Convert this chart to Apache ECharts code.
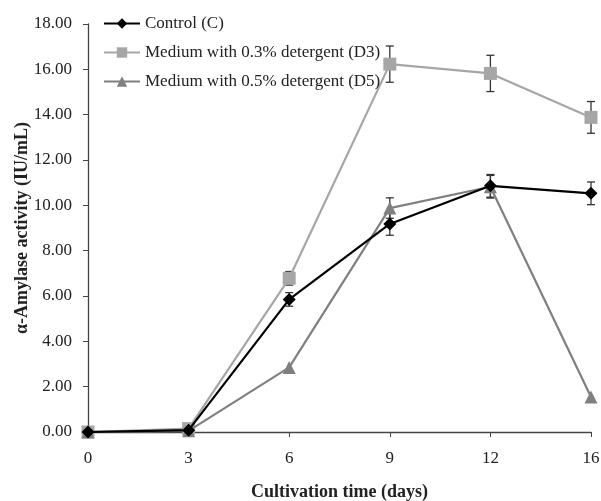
<!DOCTYPE html>
<html>
<head>
<meta charset="utf-8">
<script src="https://cdn.jsdelivr.net/npm/echarts@6/dist/echarts.min.js"></script>
<style>
  html, body { margin: 0; padding: 0; background: #fff; }
  #chart { width: 601px; height: 501px; }
</style>
</head>
<body>
<div id="chart"></div>
<script>
var days = ['0', '3', '6', '9', '12', '16'];
var yTicks = [0, 2, 4, 6, 8, 10, 12, 14, 16, 18];

var control = [0.0, 0.08, 5.85, 9.18, 10.86, 10.53];
var controlErr = [0, 0, 0.3, 0.5, 0.5, 0.5];

var d3 = [0.0, 0.15, 6.78, 16.23, 15.82, 13.88];
var d3Err = [0, 0, 0.3, 0.8, 0.8, 0.7];

var d5 = [0.0, 0.05, 2.85, 9.88, 10.82, 1.54];
var d5Err = [0, 0, 0, 0.45, 0.5, 0];

var names = ['Control (C)', 'Medium with 0.3% detergent (D3)', 'Medium with 0.5% detergent (D5)'];

var font = 'Liberation Serif';

// error bars drawn with the axis scales
function errSeries(vals, errs) {
    var data = [];
    for (var i = 0; i < vals.length; i++) {
        if (errs[i] > 0) data.push([i, vals[i] - errs[i], vals[i] + errs[i]]);
    }
    return {
        type: 'custom',
        silent: true,
        z: 1,
        data: data,
        renderItem: function (params, api) {
            var lo = api.coord([api.value(0), api.value(1)]);
            var hi = api.coord([api.value(0), api.value(2)]);
            var w = 4;
            var st = { stroke: '#333', lineWidth: 1.3 };
            return {
                type: 'group',
                children: [
                    { type: 'line', shape: { x1: lo[0], y1: lo[1], x2: hi[0], y2: hi[1] }, style: st },
                    { type: 'line', shape: { x1: lo[0] - w, y1: lo[1], x2: lo[0] + w, y2: lo[1] }, style: st },
                    { type: 'line', shape: { x1: hi[0] - w, y1: hi[1], x2: hi[0] + w, y2: hi[1] }, style: st }
                ]
            };
        }
    };
}

var myChart = echarts.init(document.getElementById('chart'));

var option = {
    animation: false,
    backgroundColor: '#fff',
    textStyle: { fontFamily: font },
    grid: { left: 88, right: 10, top: 24, bottom: 69, outerBoundsMode: 'none', containLabel: false },
    legend: {
        orient: 'vertical',
        left: 98,
        top: 10,
        itemGap: 12,
        itemWidth: 36,
        itemHeight: 13,
        data: names,
        textStyle: { fontFamily: font, fontSize: 17, color: '#222' }
    },
    xAxis: {
        type: 'category',
        data: days,
        boundaryGap: false,
        name: 'Cultivation time (days)',
        nameLocation: 'middle',
        nameGap: 51,
        nameTextStyle: { fontFamily: font, fontSize: 18, fontWeight: 'bold', color: '#222' },
        axisLine: { lineStyle: { color: '#444', width: 1.3 } },
        axisTick: { alignWithLabel: true, length: 5, lineStyle: { color: '#444' } },
        axisLabel: { fontFamily: font, fontSize: 17, color: '#222', margin: 18 },
        splitLine: { show: false }
    },
    yAxis: {
        type: 'value',
        min: yTicks[0],
        max: yTicks[yTicks.length - 1],
        interval: 2,
        name: 'α-Amylase activity (IU/mL)',
        nameLocation: 'middle',
        nameGap: 57,
        nameMoveOverlap: false,
        nameTextStyle: { fontFamily: font, fontSize: 18, fontWeight: 'bold', color: '#222' },
        axisLine: { show: true, lineStyle: { color: '#444', width: 1.3 } },
        axisTick: { show: true, length: 5, lineStyle: { color: '#444' } },
        axisLabel: {
            fontFamily: font, fontSize: 17, color: '#222', margin: 16,
            formatter: function (v) { return v.toFixed(2); }
        },
        splitLine: { show: false }
    },
    series: [
        errSeries(control, controlErr),
        errSeries(d3, d3Err),
        errSeries(d5, d5Err),
        {
            name: names[0], type: 'line', data: control, z: 4,
            symbol: 'diamond', symbolSize: 13,
            itemStyle: { color: '#000' },
            lineStyle: { color: '#000', width: 2.2 }
        },
        {
            name: names[1], type: 'line', data: d3, z: 2,
            symbol: 'rect', symbolSize: 13,
            itemStyle: { color: '#a6a6a6' },
            lineStyle: { color: '#a6a6a6', width: 2.2 }
        },
        {
            name: names[2], type: 'line', data: d5, z: 3,
            symbol: 'triangle', symbolSize: 13,
            itemStyle: { color: '#808080' },
            lineStyle: { color: '#808080', width: 2.2 }
        }
    ]
};

myChart.setOption(option);
</script>
</body>
</html>
